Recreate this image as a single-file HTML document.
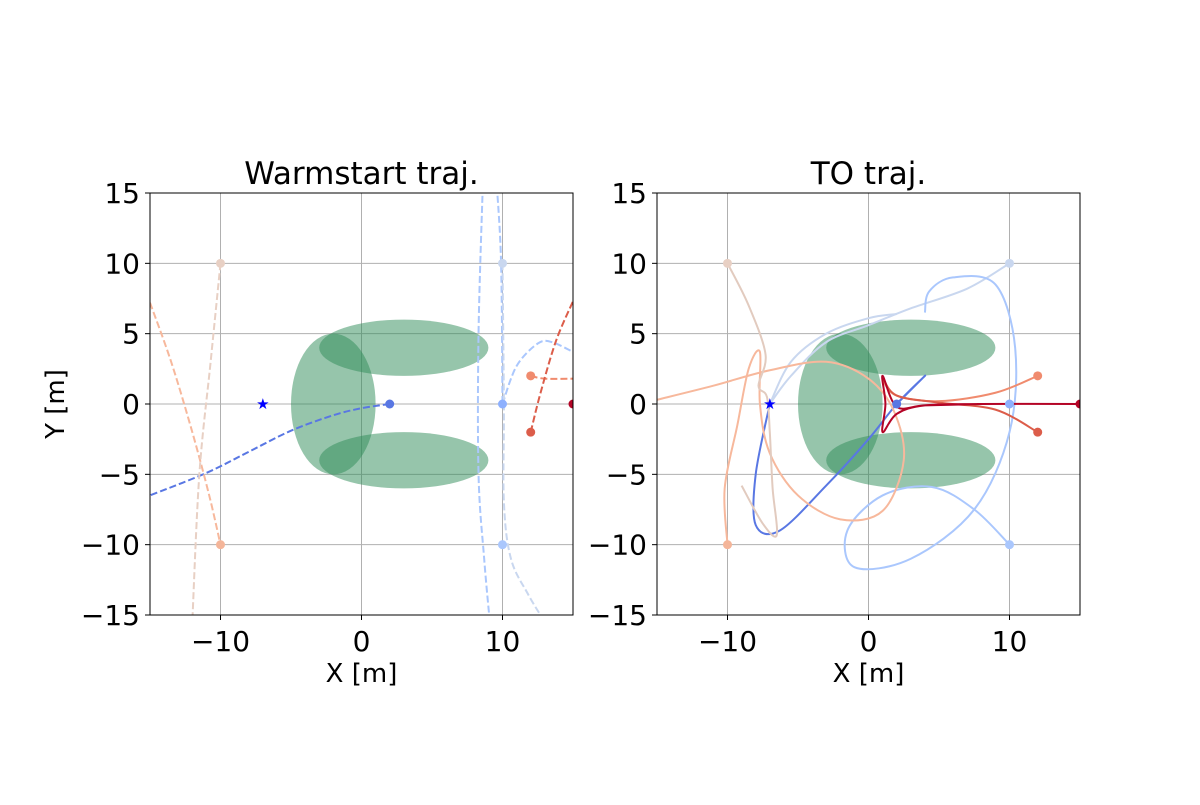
<!DOCTYPE html>
<html><head><meta charset="utf-8"><style>
body{margin:0;background:#fff;}
svg text{font-family:"DejaVu Sans","Liberation Sans",sans-serif;fill:#000;}
</style></head><body>
<svg id="fig" width="1200" height="800" viewBox="0 0 1200 800" xmlns="http://www.w3.org/2000/svg">
<defs>
<clipPath id="c0"><rect x="150" y="193" width="423" height="422"/></clipPath>
<clipPath id="c1"><rect x="657" y="193" width="423" height="422"/></clipPath>
</defs>
</svg>
<script>
const ticks=[-15,-10,-5,0,5,10,15];
const xticks=[-10,0,10];
const obstacles=[[-2,0,3,5],[3,4,6,2],[3,-4,6,2]];
const starPt=[-7,0];
const warmColors=['#5977e3','#aac7fd','#aac7fd','#aac7fd','#c9d7ef','#f7b89c','#e8d0c4','#f08b6e','#dc5d4a'];
const warmPaths=[
 [[2,0],[0,-0.3],[-2,-0.8],[-5,-1.9],[-8,-3.4],[-11,-4.9],[-15,-6.5]],
 [[8.6,15.5],[8.3,5],[8.3,-5],[8.7,-11],[9.1,-15.5]],
 [[9.6,15.5],[9.9,10],[10,0]],
 [[10,0],[11,2.7],[12.5,4.3],[13.5,4.4],[15,3.7]],
 [[10,10],[10.1,0],[10.1,-7],[10.6,-11],[11.8,-13.5],[13,-15.5]],
 [[-15,7.2],[-13.5,3],[-12,-2],[-10.8,-6.5],[-10,-10]],
 [[-10,10],[-10.7,3],[-11.5,-5],[-12,-15.5]],
 [[12,2],[13,1.8],[15,1.8]],
 [[12,-2],[12.7,0.8],[13.8,4.5],[15,7.3]]
];
const warmStarts=[[2,0,'#5977e3'],[10,0,'#8db0fe'],[10,10,'#c9d7ef'],[10,-10,'#aac7fd'],[-10,10,'#e8d0c4'],[-10,-10,'#f4b599'],[12,2,'#f08b6e'],[12,-2,'#dc5d4a'],[15,0,'#b40426']];
const toColors=['#c9d7ef','#c9d7ef','#aac7fd','#5977e3','#f7b89c','#e2cbbf','#f08b6e','#dc5d4a','#b40426'];
const toPaths=[
 [[10,10],[7,8.2],[3,6.8],[0,5.6],[-3,4.4],[-5.5,2],[-7,0]],
 [[-7,0],[-5.5,3],[-3,5],[0,6.1],[2,6.4]],
 [[10,-10],[7.5,-7.5],[4.5,-5.9],[1,-6.5],[-1.5,-9],[-1,-11.6],[3,-11],[7.5,-7.5],[10,-2],[10.4,4],[9,8.5],[6,9],[4.3,8],[4,6.5]],
 [[2,0],[3,1],[4,2],[2,0],[0,-2.5],[-3,-5.8],[-6.3,-9],[-8,-8.6],[-8,-5],[-7,0]],
 [[-10,-10],[-10.2,-6],[-9.3,-1.5],[-8.5,2.5],[-7.7,3.7],[-7.7,0],[-7,-3.5],[-5,-6.5],[-2,-8.2],[1,-7.6],[2.5,-4],[1.8,-0.5],[0,1.8],[-3,3],[-7,2.4],[-11,1.3],[-15,0.3]],
 [[-10,10],[-8.5,7],[-7.3,3.5],[-7.8,1.3],[-7.2,0.5],[-7,-2],[-6.8,-6],[-6.5,-9.3],[-7.5,-8.5],[-9,-5.8]],
 [[12,2],[9,0.8],[5,0.2],[2,0.6],[1,1.7]],
 [[12,-2],[9,-0.4],[5,0.1],[2,0.6],[1,1.9]],
 [[15,0],[8,0],[4,-0.1],[2,-0.7],[1,-2],[1.2,0],[1,2],[2,-0.2],[4,-0.1],[8,0]]
];
const toStarts=[[10,10,'#c9d7ef'],[10,-10,'#aac7fd'],[10,0,'#8db0fe'],[2,0,'#5977e3'],[-10,10,'#e8d0c4'],[-10,-10,'#f4b599'],[12,2,'#f08b6e'],[12,-2,'#dc5d4a'],[15,0,'#b40426']];

const NS='http://www.w3.org/2000/svg';
const svg=document.getElementById('fig');
function mk(tag,attrs,parent){const e=document.createElementNS(NS,tag);for(const k in attrs)e.setAttribute(k,attrs[k]);(parent||svg).appendChild(e);return e;}
function cr(pts,sx,sy){
 const P=pts.map(p=>[sx(p[0]),sy(p[1])]);
 let d='M'+P[0][0]+' '+P[0][1];
 for(let i=0;i<P.length-1;i++){
  const p0=P[Math.max(0,i-1)],p1=P[i],p2=P[i+1],p3=P[Math.min(P.length-1,i+2)];
  const c1=[p1[0]+(p2[0]-p0[0])/6,p1[1]+(p2[1]-p0[1])/6],c2=[p2[0]-(p3[0]-p1[0])/6,p2[1]-(p3[1]-p1[1])/6];
  d+=`C${c1[0]} ${c1[1]} ${c2[0]} ${c2[1]} ${p2[0]} ${p2[1]}`;
 }
 return d;
}
function panel(left,title,clip,colors,paths,starts,dashed,showY,pname){
 const W=423,H=422,top=193;
 const sx=v=>left+(v+15)/30*W, sy=v=>top+(15-v)/30*H;
 const g=mk('g',{});
 
 
 ticks.forEach(t=>{
  const l=mk('line',{x1:left,x2:left+W,y1:sy(t),y2:sy(t),stroke:'#b0b0b0','stroke-width':1},g);
  
 });
 xticks.forEach(t=>{
  const l=mk('line',{x1:sx(t),x2:sx(t),y1:top,y2:top+H,stroke:'#b0b0b0','stroke-width':1},g);
  
 });
 const cg=mk('g',{'clip-path':`url(#${clip})`},g);
 obstacles.forEach(o=>{
  const e=mk('ellipse',{cx:sx(o[0]),cy:sy(o[1]),rx:o[2]*W/30,ry:o[3]*H/30,fill:'#2e8b57','fill-opacity':0.5},cg);
  
 });
 paths.forEach((p,i)=>{
  const a={d:cr(p,sx,sy),fill:'none',stroke:colors[i],'stroke-width':2};
  if(dashed)a['stroke-dasharray']='7,3';
  const e=mk('path',a,cg);
  
 });
 starts.forEach(s=>{
  const c=mk('circle',{cx:sx(s[0]),cy:sy(s[1]),r:4.5,fill:s[2]},cg);
  
 });
 const st=mk('text',{x:sx(starPt[0]),y:sy(starPt[1])+5,'text-anchor':'middle','font-size':15,style:'fill:#0000ff'},cg);
 st.textContent='★';
 
 const fr=mk('rect',{x:left,y:top,width:W,height:H,fill:'none',stroke:'#000','stroke-width':1},g);
 
 xticks.forEach(t=>{
  mk('line',{x1:sx(t),x2:sx(t),y1:top+H,y2:top+H+5,stroke:'#000'},g);
  const tx=mk('text',{x:sx(t),y:top+H+36,'text-anchor':'middle','font-size':28},g);
  tx.textContent=t<0?'−'+(-t):String(t);
  
 });
 ticks.forEach(t=>{
  mk('line',{x1:left-5,x2:left,y1:sy(t),y2:sy(t),stroke:'#000'},g);
  const tx=mk('text',{x:left-10,y:sy(t)+10,'text-anchor':'end','font-size':28},g);
  tx.textContent=t<0?'−'+(-t):String(t);
  
 });
 const xl=mk('text',{x:left+W/2,y:682,'text-anchor':'middle','font-size':26},g);
 xl.textContent='X [m]';
 
 if(showY){
  const yl=mk('text',{x:0,y:0,'text-anchor':'middle','font-size':26,transform:`translate(64,${top+H/2}) rotate(-90)`},g);
  yl.textContent='Y [m]';
  
 }
 const tt=mk('text',{x:left+W/2,y:184,'text-anchor':'middle','font-size':31},g);
 tt.textContent=title;
 
}
panel(150,'Warmstart traj.','c0',warmColors,warmPaths,warmStarts,true,true,'warmstart-panel');
panel(657,'TO traj.','c1',toColors,toPaths,toStarts,false,false,'to-panel');
</script>
</body></html>
